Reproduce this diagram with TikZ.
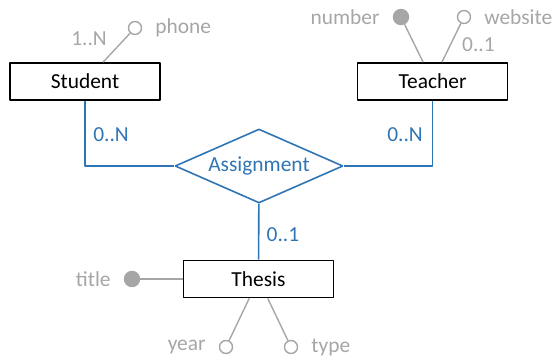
\documentclass[tikz,border=0pt]{standalone}
\usepackage{fontspec}
\setmainfont{Carlito}
\usetikzlibrary{shapes}
\definecolor{erblue}{RGB}{46,117,182}
\definecolor{ergray}{RGB}{166,166,166}

\begin{document}
\begin{tikzpicture}[>=latex,line join=bevel,
  font=\fontsize{21.5}{25}\selectfont,
  label distance=13bp,
  entity/.style={draw=black,line width=1.6bp,minimum width=150bp,minimum height=37bp,inner sep=0pt},
  relation/.style={diamond,draw=erblue,text=erblue,line width=1.6bp,aspect=2.25,minimum width=168bp,minimum height=74bp,inner sep=0pt},
  attr/.style={circle,draw=ergray,line width=1.4bp,minimum size=13bp,inner sep=0pt},
  keyattr/.style={attr,fill=ergray,minimum size=15bp},
  attrcard/.style={text=ergray,inner sep=0pt},
  relcard/.style={text=erblue,inner sep=0pt},
  attrline/.style={draw=ergray,line width=1.4bp},
  relline/.style={draw=erblue,line width=1.6bp},
  every label/.style={text=ergray,inner sep=0pt}]
\useasboundingbox (0bp,0bp) rectangle (558bp,362bp);
%%
\node (student) at (85bp,280.5bp) [entity] {Student};
  \node (teacher) at (432.5bp,280.5bp) [entity] {Teacher};
  \node (assignment) at (259bp,196bp) [relation] {Assignment};
  \node (thesis) at (258.5bp,83bp) [entity] {Thesis};
%%
  \node (phone) at (135bp,334bp) [attr,label=right:phone] {};
  \node (number) at (401bp,345bp) [keyattr,label=left:number] {};
  \node (website) at (464bp,345bp) [attr,label=right:website] {};
  \node (title) at (132bp,83bp) [keyattr,label=left:title] {};
  \node (year) at (226bp,15bp) [attr,label=left:year] {};
  \node (type) at (291bp,15bp) [attr,label=right:type] {};
%%
  \node (card_phone) at (89bp,323bp) [attrcard] {1..N};
  \node (card_website) at (478.5bp,317bp) [attrcard] {0..1};
  \node (card_student) at (111bp,227bp) [relcard] {0..N};
  \node (card_teacher) at (405bp,227bp) [relcard] {0..N};
  \node (card_thesis) at (283bp,127bp) [relcard] {0..1};
%%
  \draw [attrline] (student) -- (phone);
  \draw [attrline] (teacher) -- (number);
  \draw [attrline] (teacher) -- (website);
  \draw [attrline] (thesis) -- (title);
  \draw [attrline] (thesis) -- (year);
  \draw [attrline] (thesis) -- (type);
  \draw [relline] (student) |- (assignment);
  \draw [relline] (teacher) |- (assignment);
  \draw [relline] (assignment) -- (thesis);
%
\end{tikzpicture}
\end{document}
